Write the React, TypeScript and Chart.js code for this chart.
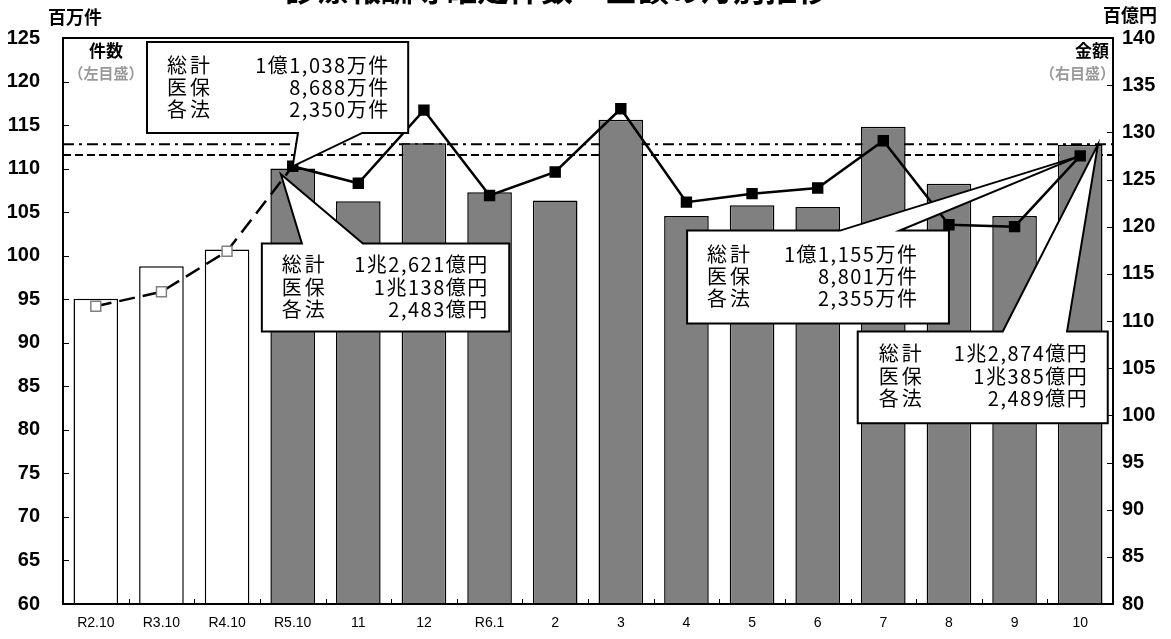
import React, { useEffect, useRef } from 'react';
import { Chart, registerables } from 'chart.js';
Chart.register(...registerables);

// ---------- data ----------
const TITLE = '診療報酬等確定件数・金額の月別推移';
const categories = ['R2.10', 'R3.10', 'R4.10', 'R5.10', '11', '12', 'R6.1', '2', '3', '4', '5', '6', '7', '8', '9', '10'];
// 件数 (百万件, left axis) – bars
const countValues = [95.05, 98.8, 100.7, 110.0, 106.25, 112.9, 107.3, 106.35, 115.6, 104.55, 105.8, 105.6, 114.8, 108.25, 104.55, 112.75];
// 金額 (百億円, right axis) – line
const amountValues = [111.56, 113.1, 117.4, 126.4, 124.6, 132.35, 123.3, 125.8, 132.5, 122.6, 123.5, 124.1, 129.1, 120.2, 120.0, 127.5];
const pastYearCount = 3; // R2.10, R3.10, R4.10 drawn as hollow/dashed
const countRefLevel = 111.55; // dashed line (left axis)
const amountRefLevel = 128.74; // dash-dot line (right axis)
const leftMin = 60, leftMax = 125, leftStep = 5;
const rightMin = 80, rightMax = 140, rightStep = 5;

const countBoxR5 = [['総計', '1億1,038万件'], ['医保', '8,688万件'], ['各法', '2,350万件']];
const amountBoxR5 = [['総計', '1兆2,621億円'], ['医保', '1兆138億円'], ['各法', '2,483億円']];
const countBoxR6 = [['総計', '1億1,155万件'], ['医保', '8,801万件'], ['各法', '2,355万件']];
const amountBoxR6 = [['総計', '1兆2,874億円'], ['医保', '1兆385億円'], ['各法', '2,489億円']];

// ---------- layout of callouts (category index / left-axis value space) ----------
type Tip = { kind: 'amount'; index: number } | { kind: 'pt'; i: number; v: number };
type Callout = {
  lines: string[][];
  box: [number, number, number, number]; // i0, vTop, i1, vBottom
  edge: 'top' | 'bottom';
  base: [number, number];
  tip: Tip;
  labelDx: number; valueDx: number; row0: number; rowGap: number;
};
const callouts: Callout[] = [
  { lines: countBoxR5, box: [0.78, 124.55, 4.76, 114.1], edge: 'bottom', base: [3.08, 4.06], tip: { kind: 'amount', index: 3 }, labelDx: 20, valueDx: 20, row0: 23, rowGap: 22 },
  { lines: amountBoxR5, box: [2.53, 101.4, 6.3, 91.3], edge: 'top', base: [3.14, 4.07], tip: { kind: 'pt', i: 2.82, v: 109.35 }, labelDx: 20, valueDx: 22, row0: 21, rowGap: 22.5 },
  { lines: countBoxR6, box: [9.01, 102.88, 13.0, 92.2], edge: 'top', base: [11.34, 12.25], tip: { kind: 'amount', index: 15 }, labelDx: 20, valueDx: 32, row0: 24, rowGap: 22 },
  { lines: amountBoxR6, box: [11.61, 91.3, 15.42, 80.76], edge: 'top', base: [13.82, 14.8], tip: { kind: 'pt', i: 15.27, v: 112.75 }, labelDx: 21, valueDx: 21, row0: 22, rowGap: 22.5 },
];

const CJK = "'Noto Sans CJK JP', 'Noto Sans CJK SC', sans-serif";
const BOXFONT = "20px 'Noto Sans CJK JP', sans-serif";

const decorPlugin = {
  id: 'decor',
  beforeDatasetsDraw(chart: any) {
    const { ctx, chartArea: a } = chart;
    const yl = chart.scales.yL, yr = chart.scales.yR;
    ctx.save();
    ctx.strokeStyle = '#000';
    ctx.lineWidth = 2;
    // dash-dot (amount reference)
    ctx.setLineDash([11, 5, 3, 5]);
    let y = yr.getPixelForValue(amountRefLevel);
    ctx.beginPath(); ctx.moveTo(a.left, y); ctx.lineTo(a.right, y); ctx.stroke();
    // dashed (count reference)
    ctx.setLineDash([8, 4]);
    y = yl.getPixelForValue(countRefLevel);
    ctx.beginPath(); ctx.moveTo(a.left, y); ctx.lineTo(a.right, y); ctx.stroke();
    ctx.restore();
  },
  afterDatasetsDraw(chart: any) {
    const { ctx, chartArea: a } = chart;
    const xs = chart.scales.x, yl = chart.scales.yL, yr = chart.scales.yR;
    const px = (i: number) => xs.getPixelForValue(i);
    ctx.save();
    // frame
    ctx.strokeStyle = '#000';
    ctx.lineWidth = 2;
    ctx.setLineDash([]);
    ctx.strokeRect(a.left, a.top, a.right - a.left, a.bottom - a.top);
    // inner ticks
    ctx.lineWidth = 1;
    ctx.beginPath();
    for (let v = leftMin; v <= leftMax; v += leftStep) {
      const y = Math.round(yl.getPixelForValue(v)) + 0.5;
      ctx.moveTo(a.left, y); ctx.lineTo(a.left + 6, y);
    }
    for (let v = rightMin; v <= rightMax; v += rightStep) {
      const y = Math.round(yr.getPixelForValue(v)) + 0.5;
      ctx.moveTo(a.right - 6, y); ctx.lineTo(a.right, y);
    }
    for (let k = 1; k < categories.length; k++) {
      const x = Math.round(px(k - 0.5)) + 0.5;
      ctx.moveTo(x, a.bottom); ctx.lineTo(x, a.bottom - 5);
    }
    ctx.stroke();

    // callouts
    for (const c of callouts) {
      const L = px(c.box[0]), T = yl.getPixelForValue(c.box[1]);
      const R = px(c.box[2]), B = yl.getPixelForValue(c.box[3]);
      const b1 = px(c.base[0]), b2 = px(c.base[1]);
      let tx: number, ty: number;
      if (c.tip.kind === 'amount') { tx = px(c.tip.index); ty = yr.getPixelForValue(amountValues[c.tip.index]); }
      else { tx = px(c.tip.i); ty = yl.getPixelForValue(c.tip.v); }
      ctx.beginPath();
      if (c.edge === 'bottom') {
        ctx.moveTo(L, T); ctx.lineTo(R, T); ctx.lineTo(R, B); ctx.lineTo(b2, B);
        ctx.lineTo(tx, ty); ctx.lineTo(b1, B); ctx.lineTo(L, B); ctx.closePath();
      } else {
        ctx.moveTo(L, T); ctx.lineTo(b1, T); ctx.lineTo(tx, ty); ctx.lineTo(b2, T);
        ctx.lineTo(R, T); ctx.lineTo(R, B); ctx.lineTo(L, B); ctx.closePath();
      }
      ctx.fillStyle = '#fff';
      ctx.fill();
      ctx.lineWidth = 2;
      ctx.lineJoin = 'miter';
      ctx.strokeStyle = '#000';
      ctx.stroke();
      ctx.fillStyle = '#000';
      ctx.font = BOXFONT;
      ctx.textBaseline = 'middle';
      c.lines.forEach((row, r) => {
        const y = T + c.row0 + r * c.rowGap;
        ctx.textAlign = 'left';
        (ctx as any).letterSpacing = '3px';
        ctx.fillText(row[0], L + c.labelDx, y);
        ctx.textAlign = 'right';
        (ctx as any).letterSpacing = '1.5px';
        ctx.fillText(row[1], R - c.valueDx + 1.5, y);
      });
      (ctx as any).letterSpacing = '0px';
    }

    // corner labels
    ctx.textBaseline = 'middle';
    ctx.textAlign = 'center';
    ctx.fillStyle = '#000';
    ctx.font = `bold 17px ${CJK}`;
    ctx.fillText('件数', a.left + 43, a.top + 13);
    ctx.fillText('金額', a.right - 21, a.top + 13);
    ctx.fillStyle = '#999';
    ctx.font = `bold 15px ${CJK}`;
    ctx.fillText('（左目盛）', a.left + 43, a.top + 35);
    ctx.textAlign = 'right';
    ctx.fillText('（右目盛）', a.right + 2, a.top + 35);

    // axis unit titles
    ctx.fillStyle = '#000';
    ctx.textAlign = 'center';
    ctx.font = `bold 18px ${CJK}`;
    ctx.fillText('百万件', 75, 17);
    ctx.fillText('百億円', 1130, 15);

    // title (partly above the visible page)
    ctx.font = `bold 32px ${CJK}`;
    ctx.textBaseline = 'middle';
    ctx.fillText(TITLE, 557, -11);
    ctx.restore();
  },
};

export default function App() {
  const ref = useRef<HTMLCanvasElement | null>(null);
  useEffect(() => {
    if (!ref.current) return;
    const tickFont = { family: "'Liberation Sans', Arial, sans-serif", size: 20, weight: 'bold' as const };
    const chart = new Chart(ref.current, {
      type: 'bar',
      data: {
        labels: categories,
        datasets: [
          {
            type: 'line' as const,
            label: '金額',
            data: amountValues,
            yAxisID: 'yR',
            order: 0,
            borderColor: '#000',
            borderWidth: 2.5,
            tension: 0,
            pointStyle: 'rect',
            pointRadius: 7,
            pointHoverRadius: 7,
            pointBorderWidth: 1.5,
            pointBackgroundColor: amountValues.map((_, i) => (i < pastYearCount ? '#fff' : '#000')),
            pointBorderColor: amountValues.map((_, i) => (i < pastYearCount ? '#808080' : '#000')),
            segment: {
              borderDash: (ctx: any) => (ctx.p1DataIndex <= pastYearCount ? [16, 8] : undefined),
            },
          } as any,
          {
            type: 'bar' as const,
            label: '件数',
            data: countValues,
            yAxisID: 'yL',
            order: 1,
            backgroundColor: countValues.map((_, i) => (i < pastYearCount ? '#ffffff' : '#808080')),
            borderColor: '#000',
            borderWidth: 1.5,
            barPercentage: 0.68,
            categoryPercentage: 1.0,
          } as any,
        ],
      },
      options: {
        animation: false,
        responsive: true,
        maintainAspectRatio: false,
        layout: { padding: { top: 38, left: 0, right: 0, bottom: 0 } },
        plugins: { legend: { display: false }, tooltip: { enabled: false }, title: { display: false } },
        scales: {
          x: {
            grid: { display: false, drawTicks: false },
            border: { display: false },
            ticks: {
              color: '#000',
              padding: 11,
              maxRotation: 0,
              autoSkip: false,
              font: { family: "'Liberation Sans Narrow', 'Liberation Sans', Arial, sans-serif", size: 14 },
            },
            afterFit: (s: any) => { s.height = 28; },
          },
          yL: {
            position: 'left',
            min: leftMin,
            max: leftMax,
            grid: { display: false, drawTicks: false },
            border: { display: false },
            ticks: { stepSize: leftStep, color: '#000', padding: 23, font: tickFont },
            afterFit: (s: any) => { s.width = 63; },
          },
          yR: {
            position: 'right',
            min: rightMin,
            max: rightMax,
            grid: { display: false, drawTicks: false },
            border: { display: false },
            ticks: { stepSize: rightStep, color: '#000', padding: 9, font: tickFont },
            afterFit: (s: any) => { s.width = 58; },
          },
        },
      } as any,
      plugins: [decorPlugin],
    });
    return () => chart.destroy();
  }, []);
  return (
    <div style={{ position: 'fixed', left: 0, top: 0, width: 1171, height: 639, background: '#fff' }}>
      <canvas ref={ref} />
    </div>
  );
}
